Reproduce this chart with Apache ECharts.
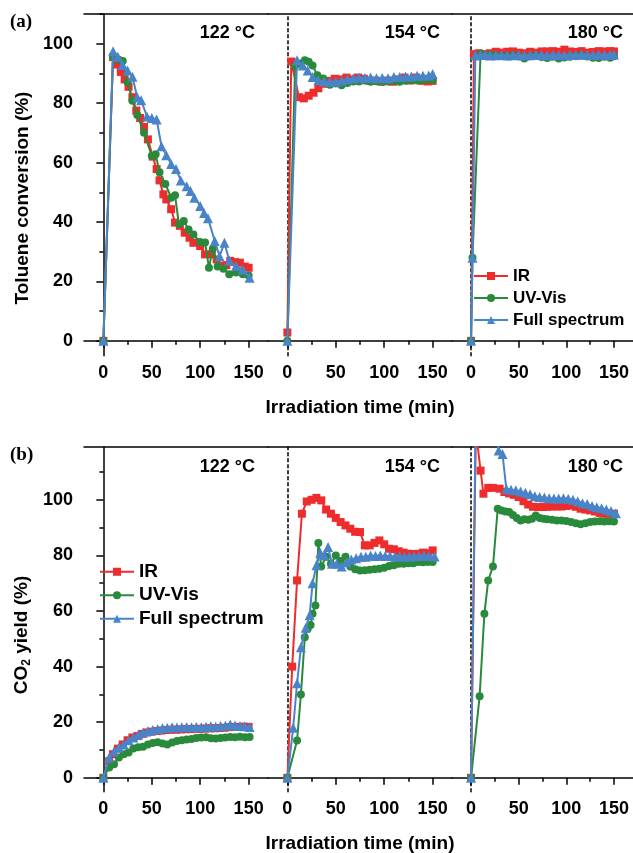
<!DOCTYPE html>
<html><head><meta charset="utf-8">
<script src="https://cdn.jsdelivr.net/npm/echarts@6.0.0/dist/echarts.min.js"></script>
<style>html,body{margin:0;padding:0;background:#fff}#c{width:633px;height:853px}</style>
</head><body><div id="c"></div>
<script>
// ---------- data ----------
const seriesNames = ['IR', 'UV-Vis', 'Full spectrum'];
const temps = ['122 °C', '154 °C', '180 °C'];
const xTickValues = [0, 50, 100, 150];
const xMinorValues = [25, 75, 125];
const yTickValues = [0, 20, 40, 60, 80, 100];
const yMinorValues = [10, 30, 50, 70, 90, 110];

// (a) Toluene conversion (%)  [time (min), value]
const a122_IR = [[0,0],[10,95.5],[14,93],[18,90.5],[22,88],[26,85.5],[30,82],[34,77.5],[38,75],[42,72],[46,67.8],[51,62],[55,57.8],[58,54],[62,49.3],[65,47.6],[70,44.3],[74,39.8],[79,38.7],[84,36.4],[89,34.7],[93,33],[100,31.9],[105,29.1],[112,29.1],[117,27.4],[122,25.2],[127,25.5],[131,26.9],[136,26.5],[141,26.3],[146,25],[150,24.6]];
const a122_UV = [[0,0],[10,95.5],[16,94.6],[20,94.2],[25,87],[30,80.8],[35,76],[42,70],[50,62.2],[54,62.8],[58,56.7],[64,52.8],[70,48.2],[74,49],[78,39.2],[83,40.3],[88,37.5],[93,35.8],[100,33.3],[105,33.1],[109,24.6],[113,31],[118,25],[124,24.3],[130,22.4],[137,23],[144,22.4],[150,22]];
const a122_FS = [[0,0],[10,97.5],[15,95.6],[20,92.8],[25,91],[30,88.9],[35,82],[39,81],[45,75.5],[50,75],[55,74.5],[60,65.5],[65,62.5],[70,59.5],[75,57.8],[80,54],[86,52],[90,50.4],[94,48.2],[100,45.4],[104,43],[108,41.3],[115,33.6],[120,28.5],[125,33],[130,27],[137,25.2],[144,24],[151,21.2]];
const a154_IR = [[0,2.8],[4,94],[12,82],[17,81.6],[22,82.5],[27,83.5],[32,85],[37,86.5],[43,87.5],[49,88.2],[55,88],[61,88.6],[67,88],[73,88.6],[79,88.2],[85,87.5],[91,87.6],[97,87.2],[103,87.6],[109,87.2],[115,88],[121,88.6],[127,87.6],[133,88.6],[139,87.5],[145,87.3],[150,87.5]];
const a154_UV = [[0,0],[8,92.5],[13,93.3],[18,94.4],[22,93.9],[26,92.7],[31,89.4],[37,88.3],[44,86.2],[50,86.6],[56,86],[62,86.8],[68,87.3],[74,87.3],[80,87.6],[86,87.2],[92,87.4],[98,87.2],[104,87.3],[110,87.5],[116,87.2],[122,87.5],[128,87.8],[134,87.6],[140,87.8],[146,88],[150,87.8]];
const a154_FS = [[0,0],[10,94.4],[16,92.7],[21,91],[26,88.8],[32,87.7],[38,87.3],[44,87.2],[50,87.2],[56,87.6],[62,88],[68,88.4],[74,88.6],[80,88.5],[86,88.6],[92,88.4],[98,88.5],[104,88.4],[110,88.8],[116,88.8],[122,89],[128,89],[134,89.2],[140,89.2],[146,89.3],[150,89.8]];
const a180_IR = [[0,0],[3,96.5],[8,96.8],[14,96.5],[20,96.8],[26,97.3],[32,97],[38,97.3],[44,97.4],[50,97],[56,96.8],[62,97.3],[68,97],[74,97.4],[80,97.4],[86,97.5],[92,97.3],[98,98],[104,97.4],[110,97.2],[116,97.5],[122,97],[128,97.2],[134,97.5],[140,97.4],[146,97.5],[150,97.4]];
const a180_UV = [[0,0],[1.5,28],[10,96.6],[15,96],[20,96.2],[26,96],[32,95.9],[38,95.8],[44,96],[50,95.7],[56,95],[62,95.8],[68,96],[74,95.5],[80,95.2],[86,95.6],[92,95],[98,95.4],[104,95.6],[110,95.8],[116,96],[122,95.7],[128,95.3],[134,95.2],[140,95.6],[146,95.3],[150,95.8]];
const a180_FS = [[0,0],[1.5,28],[4.5,96],[10,96.2],[15,96.2],[20,96],[26,96.1],[32,96.2],[38,96],[44,96.1],[50,96.2],[56,96],[62,96.1],[68,96.3],[74,96.2],[80,96.1],[86,96.3],[92,96.2],[98,96.1],[104,96.3],[110,96.2],[116,96.4],[122,96.3],[128,96.2],[134,96.4],[140,96.3],[146,96.3],[150,96.4]];

// (b) CO2 yield (%)
const b122_IR = [[0,0],[6,6],[10,8.5],[15,10.5],[20,12],[25,13.5],[30,14.5],[35,15],[40,15.8],[45,16.3],[50,16.6],[55,16.8],[60,17],[65,17.2],[70,17.3],[75,17.3],[80,17.4],[85,17.5],[90,17.5],[95,17.6],[100,17.6],[105,17.7],[110,17.8],[115,17.8],[120,17.9],[125,18],[130,18.2],[135,18.3],[140,18.3],[145,18.4],[150,18.3]];
const b122_UV = [[0,0],[6,3.7],[11,4.9],[16,7.3],[21,8.5],[26,9.1],[31,10.5],[36,11],[41,11.2],[46,12],[51,12.5],[56,12.8],[61,12.3],[66,12],[71,12.7],[76,13.2],[81,13.5],[86,13.8],[91,14],[96,14.3],[101,14.5],[106,14.6],[111,14.2],[116,14.1],[121,14.3],[126,14.5],[131,14.7],[136,14.6],[141,14.8],[146,14.6],[151,14.7]];
const b122_FS = [[0,0],[6,7.3],[11,9.5],[16,10.9],[21,12],[26,13.5],[31,14.5],[36,15.5],[41,16.3],[46,16.8],[51,17.2],[56,17.5],[61,17.8],[66,18],[71,18.2],[76,18.1],[81,18.2],[86,18.3],[91,18.2],[96,18.3],[101,18.2],[106,18.4],[111,18.5],[116,18.4],[121,18.6],[126,18.7],[131,19.2],[136,18.8],[141,18.6],[146,18.5],[151,18.3]];
const b154_IR = [[0,0],[5,40],[10,71],[15,95],[20,99.4],[25,100],[30,100.7],[35,99.8],[40,96.5],[45,95],[50,93.5],[55,92],[60,90.8],[65,89.6],[70,88.5],[75,88.4],[80,83.6],[85,83.6],[90,84.5],[95,85.4],[100,84],[105,82.4],[110,82.2],[115,81.5],[120,81],[125,80.6],[130,80.5],[135,80.6],[140,81],[145,80.8],[150,81.8]];
const b154_UV = [[0,0],[10,13.4],[14,30],[18,50.6],[21,53.6],[24,55],[26,59],[29,62],[32,84.5],[35,76],[40,79.5],[45,77],[50,80],[55,78],[60,79.5],[65,76],[70,75],[75,74.6],[80,74.7],[85,74.8],[90,75],[95,75.2],[100,75.6],[105,76.2],[110,76.5],[115,77],[120,77],[125,77.2],[130,77.2],[135,77.6],[140,77.5],[145,77.6],[150,77.6]];
const b154_FS = [[0,0],[6,18],[10,34],[14,47],[19,54],[23,58.5],[26,70],[30,76.5],[34,81],[38,80],[42,83],[46,77],[51,77],[56,76],[61,77.5],[66,78.5],[71,79],[76,79.5],[81,79.5],[86,80],[91,79.8],[96,80],[101,79.8],[106,79.8],[111,79.5],[116,79.7],[121,79.5],[126,79.6],[131,79.7],[136,79.8],[141,80],[146,79.8],[152,79.6]];
const b180_IR = [[0,0],[5,125],[10,110.5],[13,102.2],[18,104.3],[23,104.3],[30,104],[35,102.8],[40,102.3],[45,101.8],[50,101],[55,99.5],[60,98.3],[65,97.5],[70,97.4],[75,97.4],[80,97.5],[85,97.6],[90,97.6],[95,97.6],[100,97.8],[105,98],[110,97.5],[115,96.8],[120,96.5],[125,96.2],[130,95.8],[135,95.3],[140,95],[145,95],[150,95]];
const b180_UV = [[0,0],[9,29.3],[14,59],[18,71],[23,76],[28,96.8],[32,96.2],[36,95.8],[40,95.6],[44,94.5],[48,93.5],[52,92.6],[56,93],[60,92.8],[64,93.2],[68,94.4],[72,93.5],[76,93.2],[80,93],[85,92.8],[90,92.6],[95,92.6],[100,92.4],[105,92],[110,91.6],[115,91.2],[120,91.6],[125,92],[130,92.2],[135,92.3],[140,92.2],[145,92.3],[150,92.2]];
const b180_FS = [[0,0],[5,132],[10,135],[15,132],[20,130],[25,127],[29,117.7],[33,116.5],[37,104],[42,103.6],[47,103.4],[52,103],[57,102.5],[62,102],[67,101.3],[72,101],[77,100.8],[82,100.6],[87,100.5],[92,100.5],[97,100.6],[102,100.4],[107,100],[112,99.5],[117,98.8],[122,98.5],[127,97.8],[132,97.3],[137,97],[142,96.5],[147,96],[152,95.2]];

// ---------- layout ----------
const panelData = [
  [[a122_IR, a122_UV, a122_FS], [a154_IR, a154_UV, a154_FS], [a180_IR, a180_UV, a180_FS]],
  [[b122_IR, b122_UV, b122_FS], [b154_IR, b154_UV, b154_FS], [b180_IR, b180_UV, b180_FS]]
];
const yRanges = [[-5, 110], [-5, 119]];
const gridLefts = [84, 268, 452];
const gridW = 184;
const gridTops = [14, 447];
const gridHs = [341.7, 344.7];
const colors = ['#ee2c2c', '#2a8a3c', '#4a84c8'];
const symbols = ['rect', 'circle', 'triangle'];
const symbolSizes = [8, 8, 10];
const FF = '"Liberation Sans", Arial, sans-serif';
const tickFont = {fontFamily: FF, fontWeight: 'bold', fontSize: 18, color: '#000'};

const grid = [], xAxis = [], yAxis = [], series = [];
for (let p = 0; p < 2; p++) {
  for (let s = 0; s < 3; s++) {
    const g = grid.length;
    grid.push({left: gridLefts[s], top: gridTops[p], width: gridW, height: gridHs[p], containLabel: false});
    xAxis.push({type: 'value', gridIndex: g, position: 'bottom', min: -20, max: 170,
      axisLine: {show: true, lineStyle: {color: '#000', width: 1.5}},
      axisTick: {show: true, customValues: xTickValues, length: 7, lineStyle: {color: '#000', width: 1.5}},
      axisLabel: {show: true, customValues: xTickValues, margin: 8, ...tickFont},
      splitLine: {show: false}});
    xAxis.push({type: 'value', gridIndex: g, position: 'bottom', min: -20, max: 170,
      axisLine: {show: false},
      axisTick: {show: true, customValues: xMinorValues, length: 4, lineStyle: {color: '#000', width: 1.5}},
      axisLabel: {show: false}, splitLine: {show: false}});
    xAxis.push({type: 'value', gridIndex: g, position: 'top', min: -20, max: 170,
      axisLine: {show: true, lineStyle: {color: '#000', width: 1.5}},
      axisTick: {show: false}, axisLabel: {show: false}, splitLine: {show: false}});
    if (s === 0) {
      yAxis.push({type: 'value', gridIndex: g, position: 'left', min: yRanges[p][0], max: yRanges[p][1],
        axisLine: {show: true, lineStyle: {color: '#000', width: 1.5}},
        axisTick: {show: true, customValues: yTickValues, length: 7, lineStyle: {color: '#000', width: 1.5}},
        axisLabel: {show: true, customValues: yTickValues, margin: 11, ...tickFont},
        splitLine: {show: false}});
      yAxis.push({type: 'value', gridIndex: g, position: 'left', min: yRanges[p][0], max: yRanges[p][1],
        axisLine: {show: false},
        axisTick: {show: true, customValues: yMinorValues, length: 4, lineStyle: {color: '#000', width: 1.5}},
        axisLabel: {show: false}, splitLine: {show: false}});
    } else {
      yAxis.push({type: 'value', gridIndex: g, position: 'left', min: yRanges[p][0], max: yRanges[p][1],
        axisLine: {show: true, lineStyle: {color: '#000', width: 1.5, type: [3, 3]}},
        axisTick: {show: false}, axisLabel: {show: false}, splitLine: {show: false}});
      yAxis.push({type: 'value', gridIndex: g, position: 'left', min: yRanges[p][0], max: yRanges[p][1],
        show: false});
    }
    for (let k = 0; k < 3; k++) {
      series.push({
        name: seriesNames[k], type: 'line', xAxisIndex: 3 * g, yAxisIndex: 2 * g,
        data: panelData[p][s][k], symbol: symbols[k], symbolSize: symbolSizes[k],
        showAllSymbol: true, clip: true,
        lineStyle: {color: colors[k], width: 2}, itemStyle: {color: colors[k]},
        z: 2 + k
      });
    }
  }
}

function txt(x, y, text, font, align, rot, extra) {
  const st = {text: text, font: font, fill: '#000', align: align, verticalAlign: 'middle',
    textAlign: align, textVerticalAlign: 'middle'};
  if (extra) Object.assign(st, extra);
  return {type: 'text', x: x, y: y, rotation: rot || 0, z: 100, style: st};
}
const boldFont = 'bold 19px ' + FF;
const tempFont = 'bold 18px ' + FF;
const graphic = [
  txt(10, 22, '(a)', 'bold 19px "Liberation Serif", "Times New Roman", serif', 'left'),
  txt(10, 455, '(b)', 'bold 19px "Liberation Serif", "Times New Roman", serif', 'left'),
  txt(23, 198, 'Toluene conversion (%)', boldFont, 'center', Math.PI / 2),
  txt(22, 635, '{a|CO}{b|2}{a| yield (%)}', boldFont, 'center', Math.PI / 2, {
    rich: {
      a: {fontFamily: FF, fontWeight: 'bold', fontSize: 19, lineHeight: 22},
      b: {fontFamily: FF, fontWeight: 'bold', fontSize: 12, lineHeight: 22, verticalAlign: 'bottom'}
    }
  }),
  txt(360, 408, 'Irradiation time (min)', boldFont, 'center'),
  txt(360, 844, 'Irradiation time (min)', boldFont, 'center')
];
const tempRight = [255, 440, 623];
const tempY = [33, 467];
for (let p = 0; p < 2; p++) for (let s = 0; s < 3; s++) {
  graphic.push(txt(tempRight[s], tempY[p], temps[s], tempFont, 'right'));
}

const legendTextA = {fontFamily: FF, fontWeight: 'bold', fontSize: 17, color: '#000'};
const legendTextB = {fontFamily: FF, fontWeight: 'bold', fontSize: 19, color: '#000'};
const legend = [
  {data: seriesNames, orient: 'vertical', left: 473, top: 266, padding: 0, itemWidth: 34, itemHeight: 10,
    itemGap: 2, textStyle: Object.assign({lineHeight: 20}, legendTextA), selectedMode: false},
  {data: seriesNames, orient: 'vertical', left: 99, top: 561, padding: 0, itemWidth: 34, itemHeight: 10,
    itemGap: 2, textStyle: Object.assign({lineHeight: 21.5}, legendTextB), selectedMode: false}
];

const chart = echarts.init(document.getElementById('c'), null, {renderer: 'canvas'});
chart.setOption({
  animation: false,
  backgroundColor: '#fff',
  grid: grid, xAxis: xAxis, yAxis: yAxis, series: series,
  legend: legend, graphic: graphic
});
</script></body></html>
